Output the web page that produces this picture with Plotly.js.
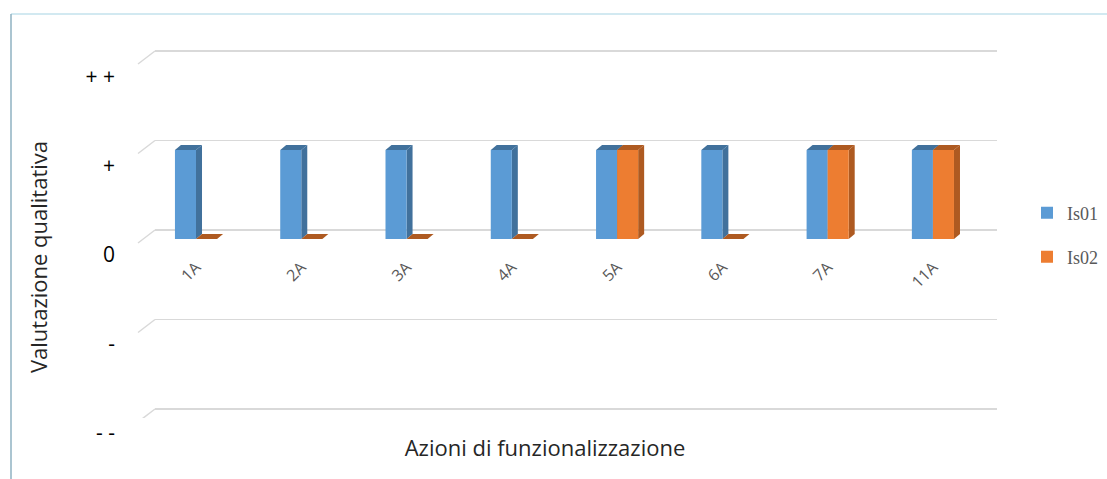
<!DOCTYPE html>
<html>
<head>
<meta charset="utf-8">
<script src="https://cdn.plot.ly/plotly-3.0.1.min.js"></script>
<style>
  html, body { margin: 0; padding: 0; background: #ffffff; }
  #chart { width: 1107px; height: 479px; }
</style>
</head>
<body>
<div id="chart"></div>
<script>
// Qualitative scores per functionalisation action
const categories = ['1A', '2A', '3A', '4A', '5A', '6A', '7A', '11A'];
const is01 = [1, 1, 1, 1, 1, 1, 1, 1];
const is02 = [0, 0, 0, 0, 1, 0, 1, 1];
const seriesNames = ['Is01', 'Is02'];
const scoreTicks = [-2, -1, 0, 1, 2];
const scoreLabels = ['- -', '-', '0', '+', '+ +'];

// Page geometry (pixels)
const W = 1107, H = 479;
const fx = px => px / W;
const fy = px => 1 - px / H;

// Front plane of the bars
const CAT_PX = 105.275;      // pixels per category
const CAT0_PX = 196;         // pixel x of the first category
const UNIT_PX = 89;          // pixels per score unit
const ZERO_PX = 239;         // pixel y of score 0
const X2_L = 100, X2_R = 990;
const Y2_T = 61, Y2_B = 453;

// Back wall (gridlines)
const G_UNIT = 89.5, G_ZERO = 230, G_PAD = 2.1;

// 3D depth of the columns
const DEPTH_X = 6;                 // pixels
const DEPTH_Y = 5 / UNIT_PX;       // score units
const BAR_W = 0.2;                 // category units
const BAR_W_PX = BAR_W * CAT_PX;
const offsets = [-BAR_W, 0];

const frontColors = ['#5b9bd5', '#ed7d31'];
const depthColors = ['#41719c', '#ae5a21'];
const gridColor = '#d9d9d9';

const series = [is01, is02];

const traces = [
  // empty trace so the back-wall subplot is created
  { type: 'scatter', x: [], y: [], xaxis: 'x', yaxis: 'y', showlegend: false, hoverinfo: 'skip' }
];
series.forEach((vals, s) => {
  traces.push({
    type: 'bar',
    name: seriesNames[s],
    x: categories,
    y: vals,
    xaxis: 'x2',
    yaxis: 'y2',
    offset: offsets[s],
    width: BAR_W,
    marker: { color: frontColors[s], line: { width: 0 } },
    legend: s === 0 ? 'legend' : 'legend2',
    showlegend: true,
    hoverinfo: 'skip'
  });
});

const shapes = [];

// Top and side faces of every column
series.forEach((vals, s) => {
  vals.forEach((v, i) => {
    const left = i + offsets[s];
    const base = {
      type: 'path', xref: 'x2', yref: 'y2', xsizemode: 'pixel', xanchor: left,
      fillcolor: depthColors[s], line: { width: 0 }, layer: 'below'
    };
    shapes.push(Object.assign({}, base, {
      path: `M0,${v} L${BAR_W_PX},${v} L${BAR_W_PX + DEPTH_X},${v + DEPTH_Y} L${DEPTH_X},${v + DEPTH_Y} Z`
    }));
    if (v !== 0) {
      shapes.push(Object.assign({}, base, {
        path: `M${BAR_W_PX},${v} L${BAR_W_PX + DEPTH_X},${v + DEPTH_Y} L${BAR_W_PX + DEPTH_X},${DEPTH_Y} L${BAR_W_PX},0 Z`
      }));
    }
  });
});

// Slanted floor edges joining the gridlines to the front
scoreTicks.forEach(t => {
  shapes.push({
    type: 'line', xref: 'paper', yref: 'y', ysizemode: 'pixel', yanchor: t,
    x0: fx(138), x1: fx(155), y0: -13, y1: 0,
    line: { color: gridColor, width: 1.5 }, layer: 'below'
  });
});

// Chart frame
shapes.push({ type: 'line', xref: 'paper', yref: 'paper', x0: fx(11), x1: 1, y0: fy(14), y1: fy(14),
  line: { color: '#c3e2ec', width: 1.5 } });
shapes.push({ type: 'line', xref: 'paper', yref: 'paper', x0: fx(11), x1: fx(11), y0: fy(14), y1: 0,
  line: { color: '#8fb2c2', width: 1.5 } });

const titleFont = { family: 'Open Sans, sans-serif', size: 22, color: '#262626' };
const legendFont = { family: 'Liberation Serif, serif', size: 18, color: '#595959' };

const layout = {
  width: W, height: H,
  margin: { l: 0, r: 0, t: 0, b: 0 },
  paper_bgcolor: '#ffffff',
  plot_bgcolor: 'rgba(0,0,0,0)',
  barmode: 'group',
  showlegend: true,
  // back wall with gridlines
  xaxis: {
    domain: [fx(155), fx(997)], range: [0, 1], fixedrange: true,
    showgrid: false, zeroline: false, showline: false, showticklabels: false, ticks: ''
  },
  yaxis: {
    domain: [fy(G_ZERO + G_PAD * G_UNIT), fy(G_ZERO - G_PAD * G_UNIT)],
    range: [-G_PAD, G_PAD], fixedrange: true,
    tickvals: scoreTicks, showticklabels: false, ticks: '',
    showgrid: true, gridcolor: gridColor, gridwidth: 1.5,
    zeroline: false, showline: false
  },
  // front plane: columns, labels and titles
  xaxis2: {
    type: 'category',
    domain: [fx(X2_L), fx(X2_R)],
    range: [(X2_L - CAT0_PX) / CAT_PX, (X2_R - CAT0_PX) / CAT_PX],
    anchor: 'free', position: fy(254),
    tickangle: -45, ticks: '',
    tickfont: { family: 'Open Sans, sans-serif', size: 16, color: '#595959' },
    showgrid: false, zeroline: false, showline: false, automargin: 'width',
    title: { text: 'Azioni di funzionalizzazione', font: titleFont, standoff: 149 }
  },
  yaxis2: {
    domain: [fy(Y2_B), fy(Y2_T)],
    range: [-(Y2_B - ZERO_PX) / UNIT_PX, (ZERO_PX - Y2_T) / UNIT_PX],
    anchor: 'free', position: fx(115),
    tickvals: scoreTicks, ticktext: scoreLabels, ticks: '',
    ticklabelshift: 16,
    tickfont: { family: 'Open Sans, sans-serif', size: 21, color: '#000000' },
    showgrid: false, zeroline: false, showline: false, automargin: 'height',
    title: { text: 'Valutazione qualitativa', font: titleFont, standoff: 30 }
  },
  legend: {
    x: fx(1027), y: fy(213), xanchor: 'left', yanchor: 'middle',
    bgcolor: 'rgba(0,0,0,0)', font: legendFont
  },
  legend2: {
    x: fx(1027), y: fy(257), xanchor: 'left', yanchor: 'middle',
    bgcolor: 'rgba(0,0,0,0)', font: legendFont
  },
  shapes: shapes
};

Plotly.newPlot('chart', traces, layout, { staticPlot: true, displayModeBar: false });
</script>
</body>
</html>
